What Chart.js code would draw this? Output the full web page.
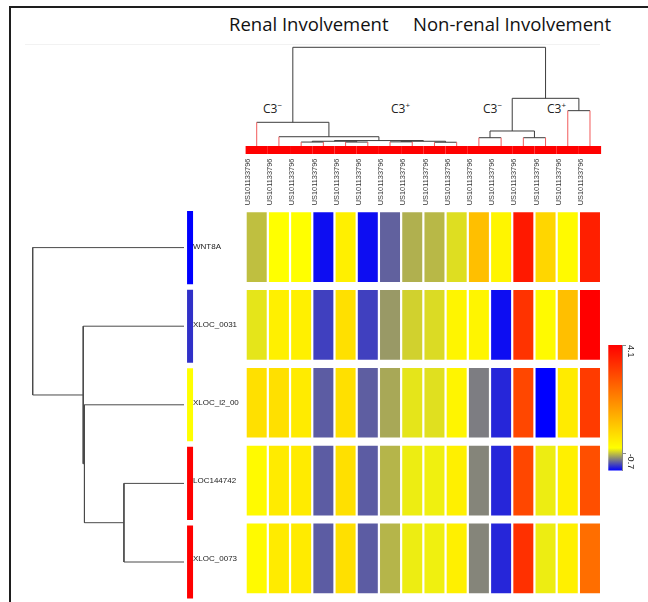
<!DOCTYPE html>
<html>
<head>
<meta charset="utf-8">
<script src="https://cdn.jsdelivr.net/npm/chart.js@4.4.1/dist/chart.umd.min.js"></script>
<style>
  html, body { margin: 0; padding: 0; background: #fff; }
  #wrap { position: relative; width: 648px; height: 602px; overflow: hidden; background: #fff; }
  #wrap canvas { position: absolute; }
  .frame { position: absolute; left: 9px; top: 6px; width: 700px; height: 700px; border-left: 2px solid #1e1e1e; border-top: 2px solid #1e1e1e; }
  .rule { position: absolute; left: 25px; top: 44px; width: 575px; height: 1px; background: #f2f2f2; }
  .title { position: absolute; font-family: 'Open Sans', sans-serif; font-size: 18.5px; line-height: normal; color: #111; white-space: nowrap; }
  .grp { position: absolute; font-family: 'Open Sans', sans-serif; font-size: 12px; line-height: normal; color: #222; white-space: nowrap; }
  .grp sup { font-size: 8px; }
</style>
</head>
<body>
<div id="wrap">
  <div class="frame"></div>
  <div class="rule"></div>
  <div class="title" style="left:229px; top:11px">Renal Involvement</div>
  <div class="title" style="left:413px; top:11px">Non-renal Involvement</div>
  <div class="grp" style="left:263px; top:99px">C3<sup>−</sup></div>
  <div class="grp" style="left:391px; top:99px">C3<sup>+</sup></div>
  <div class="grp" style="left:483px; top:99px">C3<sup>−</sup></div>
  <div class="grp" style="left:547px; top:99px">C3<sup>+</sup></div>
  <canvas id="topTree" width="409" height="120" style="left:193px; top:40px"></canvas>
  <canvas id="heat" width="409" height="452" style="left:193px; top:150px"></canvas>
  <canvas id="leftTree" width="190" height="402" style="left:12px; top:200px"></canvas>
  <canvas id="key" width="48" height="145" style="left:600px; top:335px"></canvas>
</div>
<script>
// columns (samples) and rows (genes)
const colLabels = Array(16).fill('US101133796');
const colSideColors = Array(16).fill('#ff0000');
const rowLabels = ['WNT8A', 'XLOC_0031', 'XLOC_l2_00', 'LOC144742', 'XLOC_0073'];
const rowSideColors = ['#0000ff', '#3030c8', '#ffff00', '#ff0000', '#ff0000'];

// expression values, one array per row, read left to right
const wnt8a     = [-0.70, -0.45, -0.45, -1.40, -0.18, -1.40, -1.07, -0.76, -0.73, -0.58, 0.69, -0.27, 3.65, 0.28, -0.36, 3.55];
const xloc00319 = [-0.55, -0.18, -0.18, -1.20, 0.10, -1.20, -0.85, -0.63, -0.59, -0.27, -0.27, -1.40, 3.19, -0.36, 0.69, 4.10];
const xlocI2    = [0.10, 0.10, -0.09, -1.09, 0.10, -1.08, -0.79, -0.55, -0.57, -0.27, -0.96, -1.30, 2.83, -1.45, -0.09, 3.05];
const loc144742 = [-0.36, -0.09, -0.09, -1.09, 0.10, -1.09, -0.74, -0.52, -0.51, -0.18, -0.93, -1.30, 2.83, -0.52, -0.18, 2.69];
const xloc00730 = [-0.36, -0.09, -0.09, -1.09, 0.10, -1.09, -0.74, -0.52, -0.51, -0.18, -0.93, -1.30, 3.24, -0.52, -0.18, 2.14];
const values = [wnt8a, xloc00319, xlocI2, loc144742, xloc00730];

// colour key: blue -> yellow -> red
const VMIN = -1.45, VMID = -0.45, VMAX = 4.1;
const keyTicks = [-0.7, 4.1];

// linkage [childA, childB, height]; ids >= leaf count are earlier merges
const colMerges = [
  [2, 3, 0.40], [4, 5, 0.40], [6, 7, 0.42], [8, 9, 0.38],
  [16, 17, 0.48], [18, 19, 0.48], [20, 21, 0.55], [1, 22, 0.94], [0, 23, 2.40],
  [10, 11, 0.84], [12, 13, 0.84], [25, 26, 1.52], [14, 15, 3.58], [27, 28, 4.83],
  [24, 29, 10.0]
];
const rowMerges = [[3, 4, 3.97], [2, 5, 6.58], [1, 6, 6.66], [0, 7, 10.0]];

Chart.defaults.animation = false;
Chart.defaults.events = [];
Chart.defaults.plugins.legend.display = false;
Chart.defaults.plugins.tooltip.enabled = false;
Chart.defaults.font.family = "'Liberation Sans', Arial, sans-serif";

function colorFor(v) {
  let r, g, b;
  if (v <= VMID) {
    const f = Math.max(0, (v - VMIN) / (VMID - VMIN));
    r = 255 * f; g = 255 * f; b = 255 * (1 - f);
  } else {
    const f = Math.min(1, (v - VMID) / (VMAX - VMID));
    r = 255; g = 255 * (1 - f); b = 0;
  }
  return `rgb(${Math.round(r)},${Math.round(g)},${Math.round(b)})`;
}

// walk a linkage and return line segments [[pos, height], [pos, height]]
function treeSegments(merges, nLeaves) {
  const pos = [], height = [];
  for (let i = 0; i < nLeaves; i++) { pos.push(i); height.push(0); }
  const segs = [];
  merges.forEach(([a, b, h]) => {
    [a, b].forEach(c => segs.push({ leaf: c < nLeaves, pts: [[pos[c], height[c]], [pos[c], h]] }));
    segs.push({ leaf: false, pts: [[pos[a], h], [pos[b], h]] });
    pos.push((pos[a] + pos[b]) / 2);
    height.push(h);
  });
  return segs;
}

function lineSet(data, color, width) {
  return { data, showLine: true, borderColor: color, borderWidth: width, pointRadius: 0,
           borderCapStyle: 'butt', tension: 0, clip: false };
}

// top dendrogram + column colour bar
const topSets = treeSegments(colMerges, colLabels.length).map(s =>
  lineSet(s.pts.map(p => ({ x: p[0], y: p[1] })), s.leaf ? '#f25a5a' : '#3c3c3c', 1));
colSideColors.forEach((c, i) => {
  topSets.push(lineSet([{ x: i - 0.5, y: -0.405 }, { x: i + 0.5, y: -0.405 }], c, 8));
});
new Chart(document.getElementById('topTree'), {
  type: 'scatter',
  data: { datasets: topSets },
  options: {
    responsive: false,
    layout: { padding: { left: 52.6, right: 0.9, top: 7.3, bottom: 14 } },
    scales: {
      x: { type: 'linear', min: -0.5, max: colLabels.length - 0.5, display: false },
      y: { type: 'linear', min: 0, max: 10, display: false }
    }
  }
});

// heatmap
new Chart(document.getElementById('heat'), {
  type: 'bar',
  data: {
    labels: colLabels,
    datasets: values.map((row, r) => ({
      data: row.map(() => [r - 0.448, r + 0.448]),
      backgroundColor: row.map(colorFor),
      borderWidth: 0,
      grouped: false,
      barPercentage: 0.9,
      categoryPercentage: 1
    }))
  },
  options: {
    responsive: false,
    layout: { padding: { right: 0.9, bottom: 0.7 } },
    scales: {
      x: {
        position: 'top',
        grid: { display: false, drawTicks: false },
        border: { display: false },
        ticks: { minRotation: 90, maxRotation: 90, autoSkip: false, padding: 3,
                 font: { size: 7.4 }, color: '#333' },
        afterFit(scale) { scale.height = 58.3; }
      },
      y: {
        type: 'linear', min: -0.5, max: rowLabels.length - 0.5, reverse: true,
        grid: { display: false, drawTicks: false },
        border: { display: false },
        ticks: { crossAlign: 'far', padding: 0, font: { size: 8 }, color: '#222',
                 callback: v => rowLabels[v] ?? '' },
        afterBuildTicks(scale) { scale.ticks = rowLabels.map((_, i) => ({ value: i })); },
        afterFit(scale) { scale.width = 52.6; }
      }
    }
  }
});

// left dendrogram + row colour bars
const leftSets = treeSegments(rowMerges, rowLabels.length).map(s =>
  lineSet(s.pts.map(p => ({ x: p[1], y: p[0] })), '#4a4a4a', 1));
rowSideColors.forEach((c, r) => {
  leftSets.push(lineSet([{ x: -0.4, y: r - 0.465 }, { x: -0.4, y: r + 0.465 }], c, 6));
});
new Chart(document.getElementById('leftTree'), {
  type: 'scatter',
  data: { datasets: leftSets },
  options: {
    responsive: false,
    layout: { padding: { left: 20.7, right: 18, top: 8.3, bottom: 0.7 } },
    scales: {
      x: { type: 'linear', min: 0, max: 10, reverse: true, display: false },
      y: { type: 'linear', min: -0.5, max: rowLabels.length - 0.5, reverse: true, display: false }
    }
  }
});

// colour key
new Chart(document.getElementById('key'), {
  type: 'bar',
  data: {
    labels: [''],
    datasets: [{
      data: [[VMIN, VMAX]],
      barPercentage: 1,
      categoryPercentage: 1,
      borderWidth: 0,
      backgroundColor(ctx) {
        const chart = ctx.chart;
        if (!chart.chartArea) return colorFor(VMAX);
        const y = chart.scales.y;
        const g = chart.ctx.createLinearGradient(0, y.getPixelForValue(VMIN), 0, y.getPixelForValue(VMAX));
        g.addColorStop(0, colorFor(VMIN));
        g.addColorStop((VMID - VMIN) / (VMAX - VMIN), colorFor(VMID));
        g.addColorStop(1, colorFor(VMAX));
        return g;
      }
    }]
  },
  options: {
    responsive: false,
    layout: { padding: { left: 8.3, top: 10, bottom: 8.3 } },
    scales: {
      x: { display: false },
      y: {
        position: 'right', min: VMIN, max: VMAX,
        grid: { drawOnChartArea: false, drawTicks: true, tickLength: 4, color: '#888' },
        border: { display: true, color: '#888' },
        ticks: { minRotation: -90, maxRotation: -90, padding: 4, font: { size: 9 }, color: '#222',
                 callback: v => String(v) },
        afterBuildTicks(scale) { scale.ticks = keyTicks.map(v => ({ value: v })); },
        afterFit(scale) { scale.width = 26; }
      }
    }
  }
});
</script>
</body>
</html>
